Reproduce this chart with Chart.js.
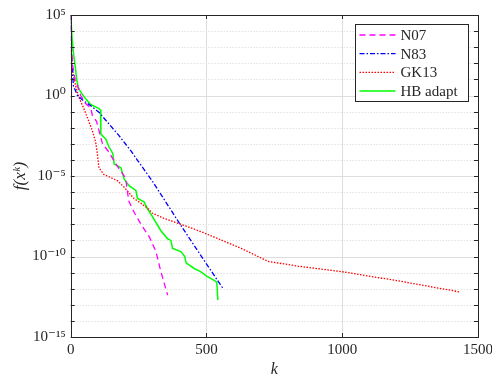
<!DOCTYPE html>
<html>
<head>
<meta charset="utf-8">
<script src="https://cdn.jsdelivr.net/npm/chart.js@4.4.0/dist/chart.umd.min.js"></script>
<style>
  html, body { margin: 0; padding: 0; background: #fff; }
  #wrap { width: 492px; height: 381px; }
</style>
</head>
<body>
<div id="wrap"><canvas id="convChart"></canvas></div>
<script>
// iterasi k dan nilai f(x^k)
const kN07 = [0, 3, 8, 16, 25, 37, 55, 74, 80, 95, 111, 117, 140, 166, 197, 203, 210, 215, 235, 259, 290, 314, 330, 339, 357];
const fN07 = [1e5, 1e3, 6.3e1, 1e1, 4.0, 1, 3.2e-1, 1.6e-1, 5.6e-2, 2.5e-2, 2.5e-3, 1e-3, 3.2e-4, 5.6e-5, 1e-5, 6.3e-6, 7.9e-7, 2.5e-7, 5.0e-8, 1e-8, 1.6e-9, 2.0e-10, 1.6e-11, 4.5e-12, 4.0e-13];

const kN83 = [0, 4, 10, 25, 45, 71, 104, 141, 178, 222, 246, 300, 400, 480, 563];
const fN83 = [1e5, 1e2, 4.0, 1, 5.0e-1, 2.5e-1, 9.1e-2, 1.7e-2, 3.2e-3, 3.6e-4, 9.5e-5, 5.0e-6, 1.2e-8, 1.1e-10, 9.1e-13];

const kGK13 = [0, 5, 12, 18, 30, 48, 63, 80, 92, 98, 104, 122, 148, 173, 197, 215, 233, 259, 283, 300, 340, 406, 480, 579, 628, 690, 727, 837, 997, 1200, 1433];
const fGK13 = [6.3e2, 6.3e1, 1.26e1, 4.0, 7.9e-1, 1.6e-1, 3.6e-2, 6.3e-3, 1.26e-3, 2.5e-4, 3.2e-5, 1.26e-5, 7.9e-6, 5.0e-6, 2.0e-6, 8.9e-7, 4.0e-7, 2.0e-7, 1e-7, 5.0e-8, 2.5e-8, 1e-8, 3.5e-9, 7.1e-10, 3.2e-10, 1e-10, 5.0e-11, 2.5e-11, 1.15e-11, 3.2e-12, 6.3e-13];

const kHB = [0, 5, 11, 16, 22, 28, 37, 55, 74, 103, 110, 111, 129, 141, 155, 160, 185, 197, 215, 240, 246, 270, 285, 300, 332, 357, 369, 375, 406, 420, 425, 455, 480, 499, 530, 538, 542];
const fHB = [1e5, 4.0e3, 3.2e2, 7.9e1, 1e1, 3.2, 1.6, 6.3e-1, 2.75e-1, 1.6e-1, 1.26e-1, 4.0e-3, 2.0e-3, 6.3e-4, 2.5e-4, 5.6e-5, 3.2e-5, 6.3e-6, 2.5e-6, 1.26e-6, 4.0e-7, 2.5e-7, 7.9e-8, 3.2e-8, 4.0e-9, 1.26e-9, 1e-9, 3.2e-10, 2.0e-10, 1e-10, 4.0e-11, 1.8e-11, 1.1e-11, 6.3e-12, 3.2e-12, 2.5e-12, 2.0e-13];

const seriesLabels = ['N07', 'N83', 'GK13', 'HB adapt'];
const xTicks = [0, 500, 1000, 1500];
const yLabelTicks = [1e5, 1e0, 1e-5, 1e-10, 1e-15];

const SERIF = '"Liberation Serif", "DejaVu Serif", serif';
const AXIS = '#262626';

function pts(ks, fs) {
    return ks.map((k, i) => ({ x: k, y: fs[i] }));
}

const sup = { '0': '⁰', '1': '¹', '2': '²', '3': '³', '4': '⁴', '5': '⁵', '6': '⁶', '7': '⁷', '8': '⁸', '9': '⁹', '-': '⁻' };
function pow10Label(v) {
    const e = String(Math.round(Math.log10(v)));
    return '10' + e.split('').map(c => sup[c]).join('');
}

// grid, kotak sumbu, tick ke dalam, dan legenda
const framePlugin = {
    id: 'frame',
    beforeDatasetsDraw(chart) {
        const { ctx, chartArea: a, scales: { x, y } } = chart;
        ctx.save();
        ctx.lineWidth = 1;
        for (let e = -14; e <= 4; e++) {
            const py = Math.round(y.getPixelForValue(Math.pow(10, e))) + 0.5;
            if (e % 5 === 0) {
                ctx.strokeStyle = '#dedede';
                ctx.setLineDash([]);
            } else {
                ctx.strokeStyle = '#d4d4d4';
                ctx.setLineDash([1, 2]);
            }
            ctx.beginPath();
            ctx.moveTo(a.left, py);
            ctx.lineTo(a.right, py);
            ctx.stroke();
        }
        ctx.setLineDash([]);
        ctx.strokeStyle = '#dedede';
        [500, 1000].forEach(v => {
            const px = Math.round(x.getPixelForValue(v)) + 0.5;
            ctx.beginPath();
            ctx.moveTo(px, a.top);
            ctx.lineTo(px, a.bottom);
            ctx.stroke();
        });
        ctx.restore();
    },
    afterDatasetsDraw(chart) {
        const { ctx, chartArea: a, scales: { x, y } } = chart;
        ctx.save();
        ctx.strokeStyle = AXIS;
        ctx.lineWidth = 1;
        ctx.setLineDash([]);
        ctx.strokeRect(Math.round(a.left) + 0.5, Math.round(a.top) + 0.5,
            Math.round(a.right - a.left), Math.round(a.bottom - a.top));
        const tl = 4;
        ctx.beginPath();
        for (let e = -15; e <= 5; e++) {
            const py = Math.round(y.getPixelForValue(Math.pow(10, e))) + 0.5;
            ctx.moveTo(a.left, py); ctx.lineTo(a.left + tl, py);
            ctx.moveTo(a.right, py); ctx.lineTo(a.right - tl, py);
        }
        xTicks.forEach(v => {
            const px = Math.round(x.getPixelForValue(v)) + 0.5;
            ctx.moveTo(px, a.bottom); ctx.lineTo(px, a.bottom - tl);
            ctx.moveTo(px, a.top); ctx.lineTo(px, a.top + tl);
        });
        ctx.stroke();

        // legenda
        const w = 113, h = 77;
        const bx = Math.round(a.right - 10 - w) + 0.5;
        const by = Math.round(a.top + 9) + 0.5;
        ctx.fillStyle = '#fff';
        ctx.fillRect(bx, by, w, h);
        ctx.strokeStyle = AXIS;
        ctx.strokeRect(bx, by, w, h);
        ctx.font = '15px ' + SERIF;
        ctx.textBaseline = 'middle';
        chart.data.datasets.forEach((ds, i) => {
            const ly = by + 10.5 + i * 18.7;
            ctx.strokeStyle = ds.borderColor;
            ctx.lineWidth = ds.borderWidth;
            ctx.setLineDash(ds.borderDash || []);
            ctx.beginPath();
            ctx.moveTo(bx + 4, ly);
            ctx.lineTo(bx + 40, ly);
            ctx.stroke();
            ctx.fillStyle = AXIS;
            ctx.fillText(ds.label, bx + 45, ly + 1);
        });
        ctx.restore();
    }
};

document.addEventListener('DOMContentLoaded', function() {
    const ctx = document.getElementById('convChart');
    new Chart(ctx, {
        type: 'line',
        data: {
            datasets: [
                { label: seriesLabels[0], data: pts(kN07, fN07), borderColor: '#ff00ff', borderWidth: 1.3, borderDash: [6, 4] },
                { label: seriesLabels[1], data: pts(kN83, fN83), borderColor: '#0000ff', borderWidth: 1.3, borderDash: [5, 2, 1.5, 2] },
                { label: seriesLabels[2], data: pts(kGK13, fGK13), borderColor: '#ff0000', borderWidth: 1.3, borderDash: [1.5, 1.5] },
                { label: seriesLabels[3], data: pts(kHB, fHB), borderColor: '#00ff00', borderWidth: 1.5 }
            ]
        },
        options: {
            responsive: true,
            maintainAspectRatio: false,
            animation: false,
            layout: { padding: { top: 15, right: 14, left: 0, bottom: 0 } },
            elements: { point: { radius: 0 }, line: { tension: 0, fill: false } },
            plugins: {
                legend: { display: false },
                tooltip: { enabled: false }
            },
            scales: {
                x: {
                    type: 'linear',
                    min: 0,
                    max: 1500,
                    afterBuildTicks: function(scale) {
                        scale.ticks = xTicks.map(v => ({ value: v }));
                    },
                    afterFit: function(scale) {
                        scale.height = 44;
                        scale.paddingRight = 0;
                    },
                    grid: { display: false, drawTicks: false },
                    border: { display: false },
                    ticks: {
                        padding: 4,
                        color: AXIS,
                        maxRotation: 0,
                        font: { family: SERIF, size: 15 },
                        callback: function(value) { return String(value); }
                    },
                    title: {
                        display: true,
                        text: 'k',
                        color: AXIS,
                        padding: { top: 0, bottom: 2 },
                        font: { family: SERIF, size: 16, style: 'italic' }
                    }
                },
                y: {
                    type: 'logarithmic',
                    min: 1e-15,
                    max: 1e5,
                    afterBuildTicks: function(scale) {
                        scale.ticks = yLabelTicks.map(v => ({ value: v }));
                    },
                    afterFit: function(scale) { scale.width = 70.7; },
                    grid: { display: false, drawTicks: false },
                    border: { display: false },
                    ticks: {
                        padding: 5,
                        color: AXIS,
                        font: { family: SERIF, size: 15 },
                        callback: function(value) { return pow10Label(value); }
                    },
                    title: {
                        display: true,
                        text: 'f(xᵏ)',
                        color: AXIS,
                        padding: { top: 10, bottom: 0 },
                        font: { family: SERIF, size: 17, style: 'italic' }
                    }
                }
            }
        },
        plugins: [framePlugin]
    });
});
</script>
</body>
</html>
